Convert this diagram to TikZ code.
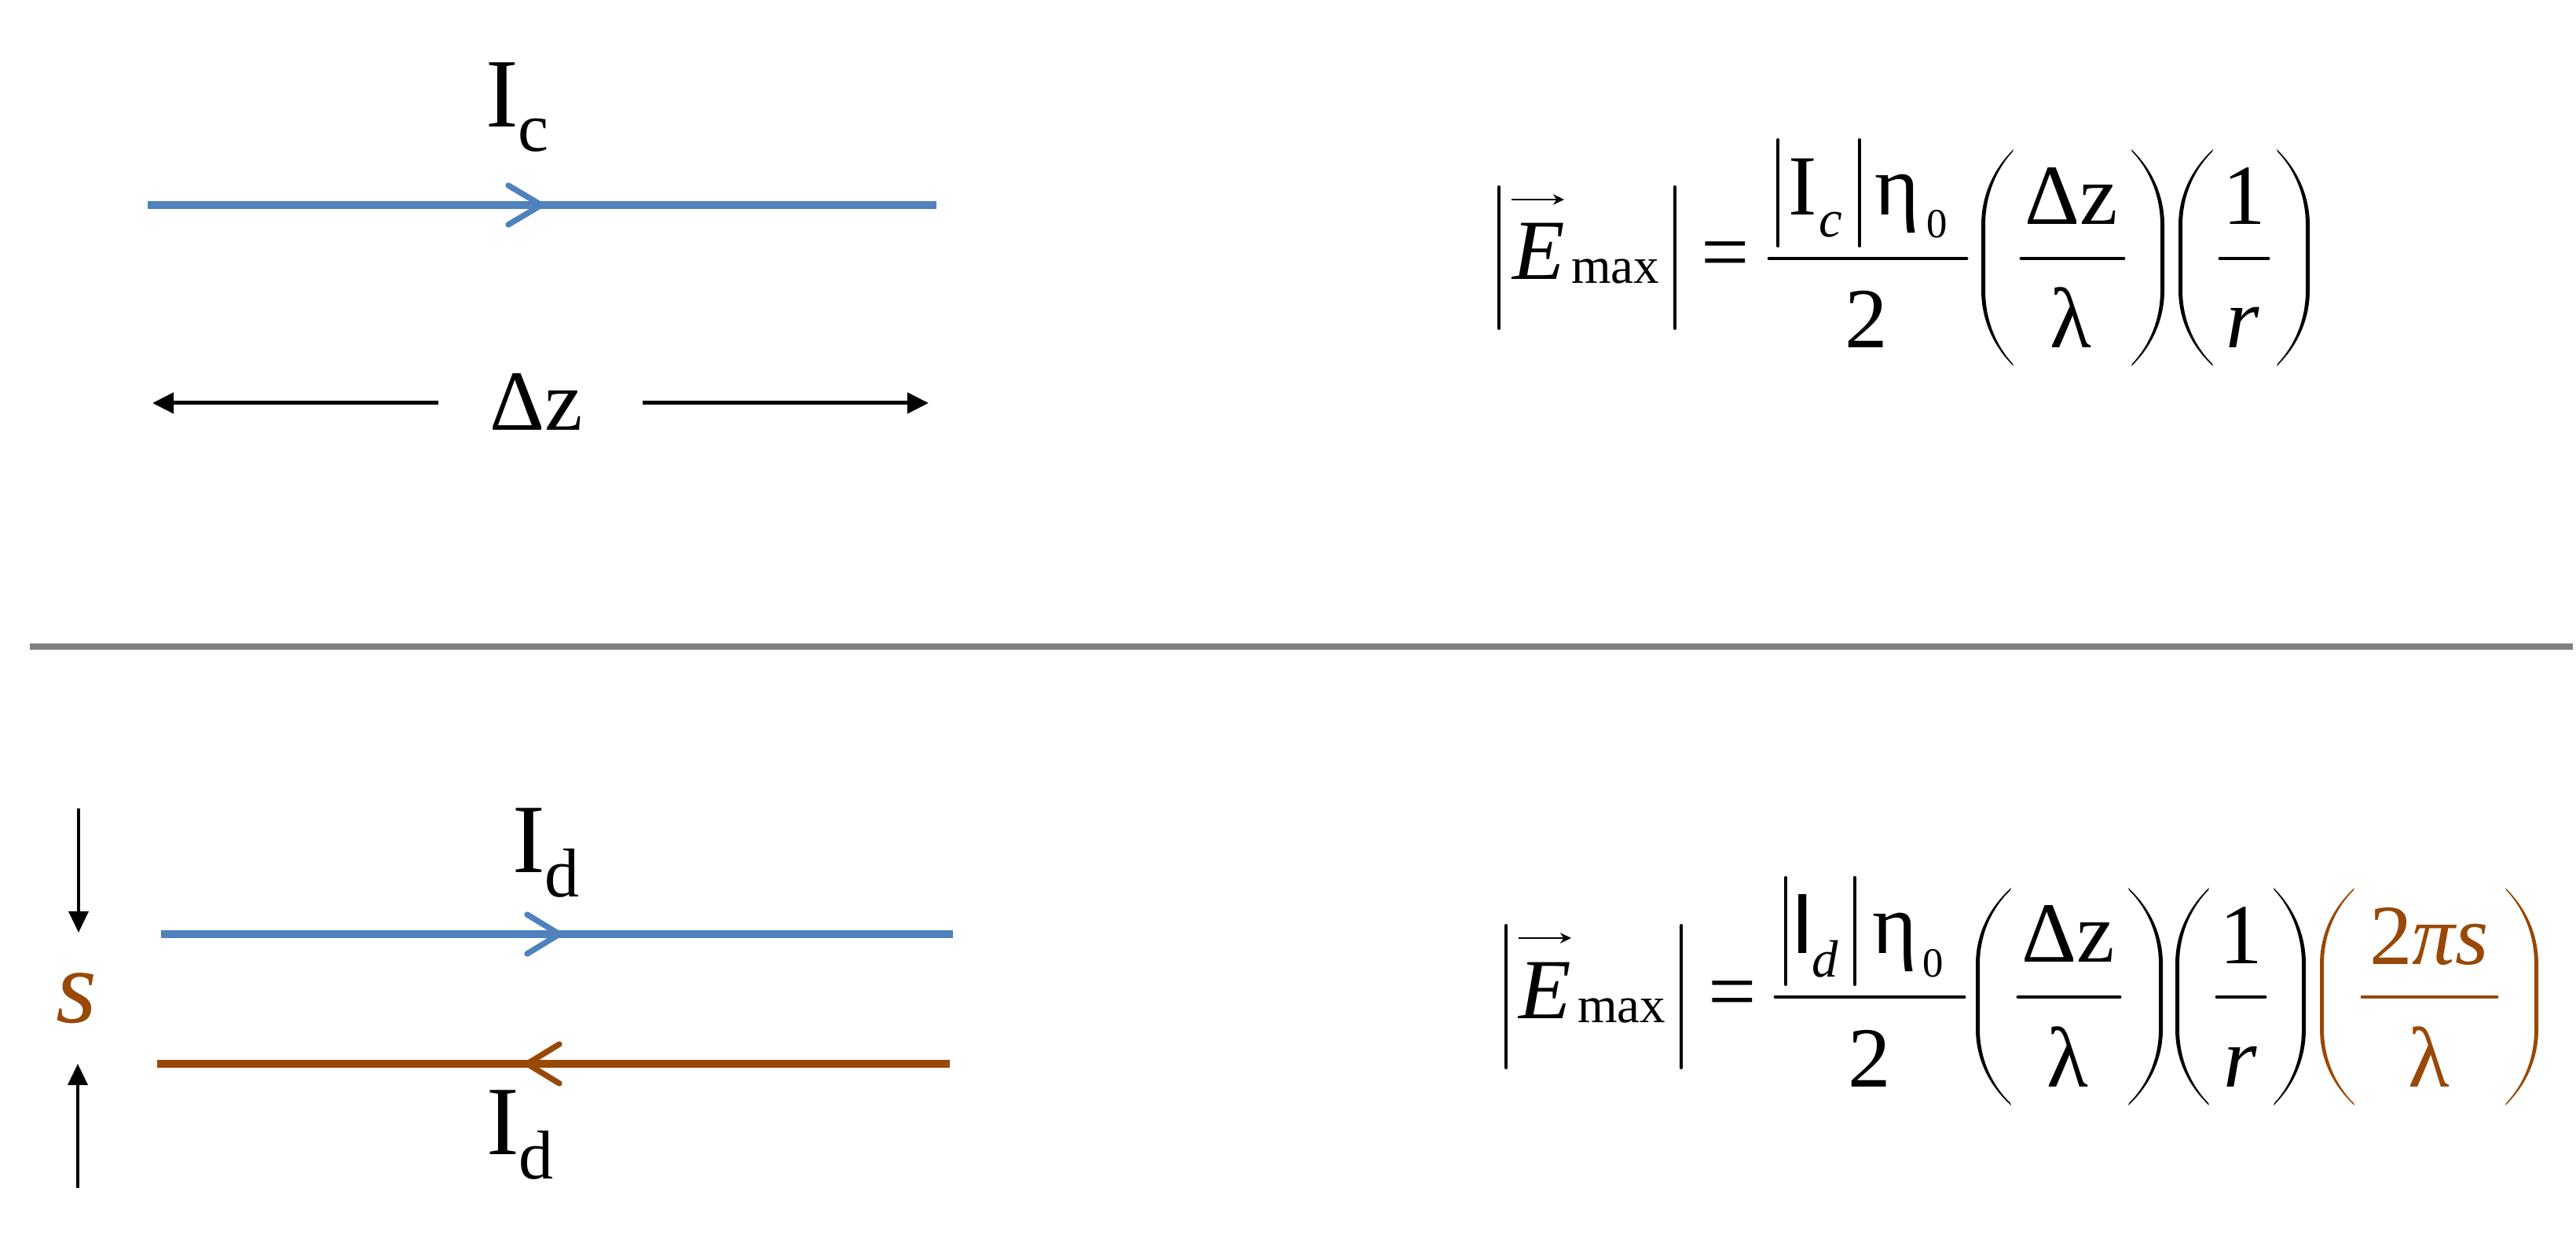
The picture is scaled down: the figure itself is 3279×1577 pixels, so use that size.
\documentclass[tikz,border=0pt]{standalone}
\usepackage{fontspec}
\setmainfont{Liberation Serif}
\newfontfamily\sansI{Liberation Sans}
\usetikzlibrary{arrows.meta}
\definecolor{wireblue}{HTML}{4F81BD}
\definecolor{wirebrown}{HTML}{984807}
\definecolor{divgray}{HTML}{808080}
\newcommand\fsz[1]{\fontsize{#1}{#1}\selectfont}
% left parenthesis: outer x, end x, top y, bottom y, colour
\newcommand\myLpar[5]{%
 \fill[#5] (#2,#3) .. controls ({#2-0.55*(#2-#1)},{#3+0.08*(#4-#3)}) and (#1,{#3+0.2*(#4-#3)}) .. (#1,{#3+0.35*(#4-#3)})
  -- (#1,{#4-0.35*(#4-#3)}) .. controls (#1,{#4-0.2*(#4-#3)}) and ({#2-0.55*(#2-#1)},{#4-0.08*(#4-#3)}) .. (#2,#4)
  -- ({#2-1},{#4-3}) .. controls ({#2-0.55*(#2-#1)+3},{#4-0.08*(#4-#3)-1}) and ({#1+5},{#4-0.2*(#4-#3)}) .. ({#1+5},{#4-0.35*(#4-#3)})
  -- ({#1+5},{#3+0.35*(#4-#3)}) .. controls ({#1+5},{#3+0.2*(#4-#3)}) and ({#2-0.55*(#2-#1)+3},{#3+0.08*(#4-#3)+1}) .. ({#2-1},{#3+3}) -- cycle;}
% right parenthesis: outer x, end x, top y, bottom y, colour
\newcommand\myRpar[5]{%
 \fill[#5] (#2,#3) .. controls ({#2+0.55*(#1-#2)},{#3+0.08*(#4-#3)}) and (#1,{#3+0.2*(#4-#3)}) .. (#1,{#3+0.35*(#4-#3)})
  -- (#1,{#4-0.35*(#4-#3)}) .. controls (#1,{#4-0.2*(#4-#3)}) and ({#2+0.55*(#1-#2)},{#4-0.08*(#4-#3)}) .. (#2,#4)
  -- ({#2+1},{#4-3}) .. controls ({#2+0.55*(#1-#2)-3},{#4-0.08*(#4-#3)-1}) and ({#1-5},{#4-0.2*(#4-#3)}) .. ({#1-5},{#4-0.35*(#4-#3)})
  -- ({#1-5},{#3+0.35*(#4-#3)}) .. controls ({#1-5},{#3+0.2*(#4-#3)}) and ({#2+0.55*(#1-#2)-3},{#3+0.08*(#4-#3)+1}) .. ({#2+1},{#3+3}) -- cycle;}
\tikzset{
 wireb/.style={wireblue, line width=2.85pt},
 wirebr/.style={wirebrown, line width=2.85pt},
 chev/.style={line width=2.1pt, line cap=round, line join=round},
 dimarrow/.style={line width=1.42pt, -{Triangle[length=7.7pt,width=7.4pt]}},
 gaparrow/.style={line width=1.14pt, -{Triangle[length=7.7pt,width=7.1pt]}},
 vecarrow/.style={line width=0.8pt, -{Stealth[length=4pt,width=3.8pt]}},
 absbar/.style={line width=1.15pt, line cap=round},
 fracbar/.style={line width=1.4pt, line cap=round},
 lbl/.style={inner sep=0pt, outer sep=0pt, anchor=base west},
 ctr/.style={inner sep=0pt, outer sep=0pt, anchor=base},
}
\begin{document}
\begin{tikzpicture}[x=0.01cm, y=-0.01cm]
\useasboundingbox (0,0) rectangle (3279,1577);

% ---------- top left: single wire ----------
\node[lbl] (Ic) at (618,162) {\fsz{35.5}I\raisebox{-8.8pt}{\fsz{25}c}};
\coordinate (t1) at (188,261);
\coordinate (t2) at (1192,261);
\draw[wireb] (t1) -- (t2);
\coordinate (tc) at (689,261);
\draw[chev, wireblue] (tc) ++(-42,-25) -- (tc) -- ++(-42,25);
\node[lbl] (dz) at (623,548) {\fsz{31}Δz};
\coordinate (dzl1) at (558,513);
\coordinate (dzl2) at (194,513);
\coordinate (dzr1) at (818,513);
\coordinate (dzr2) at (1182,513);
\draw[dimarrow] (dzl1) -- (dzl2);
\draw[dimarrow] (dzr1) -- (dzr2);

% ---------- divider ----------
\coordinate (dv1) at (38,823);
\coordinate (dv2) at (3275,823);
\draw[divgray, line width=2.1pt] (dv1) -- (dv2);

% ---------- top formula ----------
\draw[absbar] (1908,238) -- (1908,418);
\draw[absbar] (2132,238) -- (2132,418);
\coordinate (ea1) at (1924,254);
\coordinate (ea2) at (1991,254);
\draw[vecarrow] (ea1) -- (ea2);
\node[lbl] (E1) at (1925,356) {\fsz{31}\itshape E};
\node[lbl] (max1) at (2000,361) {\fsz{18.5}max};
\node[lbl] (eq1) at (2165,358) {\fsz{31}=};
\draw[absbar] (2263,178) -- (2263,313);
\draw[absbar] (2367,178) -- (2367,313);
\node[lbl] (I1) at (2276,274) {\fsz{31}I};
\node[lbl] (c1) at (2315,302) {\fsz{19}\itshape c};
\node[lbl] (eta1) at (2386,274) {\fsz{31}η};
\node[lbl] (zero1) at (2452,303) {\fsz{15}0};
\draw[fracbar] (2252,329) -- (2503,329);
\node[ctr] (two1) at (2376,443) {\fsz{31}2};
\myLpar{2522}{2563}{190}{466}{black}
\node[ctr] (dzn1) at (2637,286) {\fsz{31}Δz};
\draw[fracbar] (2573,329) -- (2703,329);
\node[ctr] (lam1) at (2636,443) {\fsz{31}λ};
\myRpar{2755}{2713}{190}{466}{black}
\myLpar{2773}{2817}{190}{466}{black}
\node[ctr] (one1) at (2857,286) {\fsz{31}1};
\draw[fracbar] (2826,329) -- (2887,329);
\node[ctr] (r1) at (2855,443) {\fsz{31}\itshape r};
\myRpar{2940}{2898}{190}{466}{black}

% ---------- bottom left: two-wire line ----------
\coordinate (sd1) at (100,1029);
\coordinate (sd2) at (100,1187);
\draw[gaparrow] (sd1) -- (sd2);
\coordinate (su1) at (99,1512);
\coordinate (su2) at (99,1354);
\draw[gaparrow] (su1) -- (su2);
\node[ctr, text=wirebrown] (s) at (98,1301) {\fsz{38}\itshape s};
\node[lbl] (Id1) at (652,1110) {\fsz{35.5}I\raisebox{-9pt}{\fsz{25}d}};
\coordinate (b1) at (205,1189);
\coordinate (b2) at (1213,1189);
\draw[wireb] (b1) -- (b2);
\coordinate (bc) at (712,1189);
\draw[chev, wireblue] (bc) ++(-41,-25) -- (bc) -- ++(-41,25);
\coordinate (r1a) at (200,1354);
\coordinate (r1b) at (1209,1354);
\draw[wirebr] (r1a) -- (r1b);
\coordinate (rc) at (671,1354);
\draw[chev, wirebrown] (rc) ++(41,-25) -- (rc) -- ++(41,25);
\node[lbl] (Id2) at (619,1469) {\fsz{35.5}I\raisebox{-9pt}{\fsz{25}d}};

% ---------- bottom formula ----------
\draw[absbar] (1917,1178) -- (1917,1359);
\draw[absbar] (2140,1178) -- (2140,1359);
\coordinate (eb1) at (1933,1194);
\coordinate (eb2) at (2000,1194);
\draw[vecarrow] (eb1) -- (eb2);
\node[lbl] (E2) at (1933,1296) {\fsz{31}\itshape E};
\node[lbl] (max2) at (2008,1301) {\fsz{18.5}max};
\node[lbl] (eq2) at (2174,1298) {\fsz{31}=};
\draw[absbar] (2273,1117) -- (2273,1253);
\draw[absbar] (2361,1117) -- (2361,1253);
\node[lbl] (I2) at (2279,1213) {\sansI\fsz{31}I};
\node[lbl] (d2) at (2306,1243) {\fsz{19}\itshape d};
\node[lbl] (eta2) at (2383,1213) {\fsz{31}η};
\node[lbl] (zero2) at (2447,1243) {\fsz{15}0};
\draw[fracbar] (2260,1269) -- (2500,1269);
\node[ctr] (two2) at (2380,1383) {\fsz{31}2};
\myLpar{2515}{2560}{1130}{1407}{black}
\node[ctr] (dzn2) at (2633,1225) {\fsz{31}Δz};
\draw[fracbar] (2569,1269) -- (2698,1269);
\node[ctr] (lam2) at (2632,1383) {\fsz{31}λ};
\myRpar{2753}{2709}{1130}{1407}{black}
\myLpar{2769}{2812}{1130}{1407}{black}
\node[ctr] (one2) at (2853,1226) {\fsz{31}1};
\draw[fracbar] (2822,1269) -- (2883,1269);
\node[ctr] (r2) at (2852,1383) {\fsz{31}\itshape r};
\myRpar{2935}{2894}{1130}{1407}{black}
\myLpar{2953}{2997}{1130}{1407}{wirebrown}
\node[ctr, text=wirebrown] (tps) at (3092,1227) {\fsz{31}2\textit{πs}};
\draw[fracbar, wirebrown] (3007,1269) -- (3178,1269);
\node[ctr, text=wirebrown] (lam3) at (3092,1383) {\fsz{31}λ};
\myRpar{3231}{3189}{1130}{1407}{wirebrown}
\end{tikzpicture}
\end{document}
